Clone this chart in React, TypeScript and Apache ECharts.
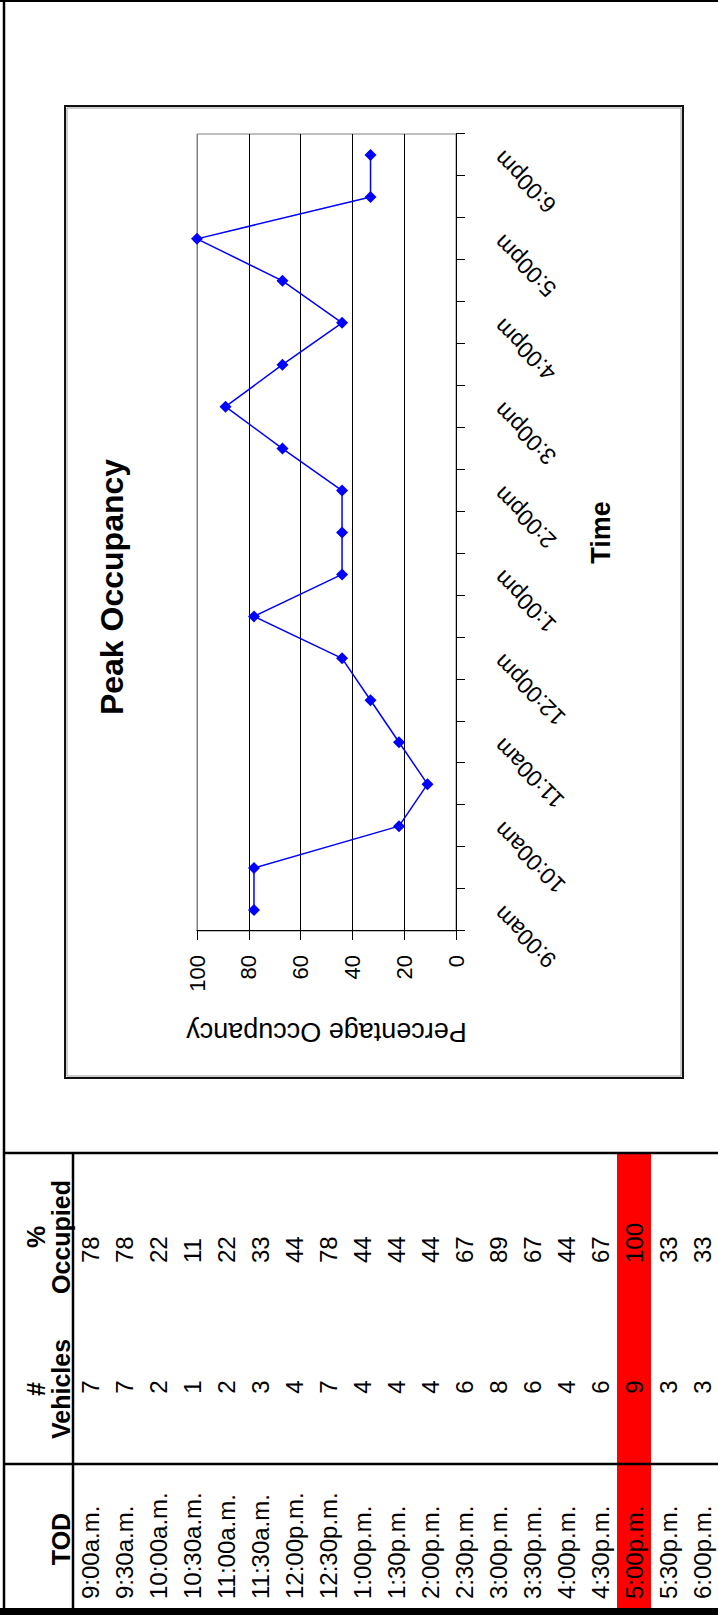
import React, { useEffect, useRef } from "react";
import * as echarts from "echarts";

// Half-hour survey periods shown on the chart's category axis
const TIMES = [
  "9:00am", "9:30am", "10:00am", "10:30am", "11:00am", "11:30am", "12:00pm",
  "12:30pm", "1:00pm", "1:30pm", "2:00pm", "2:30pm", "3:00pm", "3:30pm",
  "4:00pm", "4:30pm", "5:00pm", "5:30pm", "6:00pm",
];
// Same periods as written in the table
const TOD = [
  "9:00a.m.", "9:30a.m.", "10:00a.m.", "10:30a.m.", "11:00a.m.", "11:30a.m.",
  "12:00p.m.", "12:30p.m.", "1:00p.m.", "1:30p.m.", "2:00p.m.", "2:30p.m.",
  "3:00p.m.", "3:30p.m.", "4:00p.m.", "4:30p.m.", "5:00p.m.", "5:30p.m.",
  "6:00p.m.",
];
const VEHICLES = [7, 7, 2, 1, 2, 3, 4, 7, 4, 4, 4, 6, 8, 6, 4, 6, 9, 3, 3];
const OCCUPIED = [78, 78, 22, 11, 22, 33, 44, 78, 44, 44, 44, 67, 89, 67, 44, 67, 100, 33, 33];

const FONT = '"Liberation Sans", Arial, Helvetica, sans-serif';

// Page is laid out landscape, then turned a quarter turn counter-clockwise.
const PAGE_W = 1615;
const PAGE_H = 718;

// Table geometry (landscape page coordinates)
const ROW_TOP = 73;
const ROW_H = 34;
const TABLE_RIGHT = 462;
const TOD_SPLIT = 151;

function buildGraphics() {
  const els: any[] = [];
  const peak = OCCUPIED.indexOf(Math.max(...OCCUPIED));

  // highlighted peak row
  els.push({
    type: "rect",
    shape: { x: 7, y: ROW_TOP + peak * ROW_H, width: TABLE_RIGHT - 7, height: ROW_H },
    style: { fill: "#ff0000" },
  });

  const txt = (text: string, x: number, y: number, size: number, align: string, bold = false) => ({
    type: "text",
    x,
    y,
    style: {
      text,
      fill: "#000",
      fontSize: size,
      fontFamily: FONT,
      fontWeight: bold ? "bold" : "normal",
      textAlign: align,
      verticalAlign: "middle",
    },
  });

  // headers
  els.push(txt("TOD", 76, 61, 25, "center", true));
  els.push(txt("#", 226, 36, 25, "center", true));
  els.push(txt("Vehicles", 226, 61, 25, "center", true));
  els.push(txt("%", 378, 36, 25, "center", true));
  els.push(txt("Occupied", 378, 61, 25, "center", true));

  // rows
  TOD.forEach((t, i) => {
    const cy = ROW_TOP + ROW_H * i + ROW_H / 2;
    els.push(txt(t, 16, cy, 24, "left"));
    els.push(txt(String(VEHICLES[i]), 228, cy, 24, "center"));
    els.push(txt(String(OCCUPIED[i]), 352, cy, 24, "left"));
  });

  const line = (x1: number, y1: number, x2: number, y2: number, w: number) => ({
    type: "line",
    shape: { x1, y1, x2, y2 },
    style: { stroke: "#000", lineWidth: w },
  });

  // page rules and table grid
  els.push(line(0, 4, PAGE_W, 4, 2.5));
  els.push(line(PAGE_W - 1, 0, PAGE_W - 1, PAGE_H, 2));
  els.push({ type: "rect", shape: { x: 0, y: 0, width: 7, height: PAGE_H }, style: { fill: "#000" } });
  els.push(line(TABLE_RIGHT, 4, TABLE_RIGHT, PAGE_H, 2.5));
  els.push(line(TOD_SPLIT, 4, TOD_SPLIT, PAGE_H, 2.5));
  els.push(line(7, ROW_TOP, TABLE_RIGHT, ROW_TOP, 2.5));

  // chart frame
  els.push({
    type: "rect",
    shape: { x: 537, y: 65, width: 972, height: 618 },
    style: { fill: "none", stroke: "#111", lineWidth: 2 },
  });
  els.push({
    type: "rect",
    shape: { x: 539, y: 67, width: 968, height: 614 },
    style: { fill: "none", stroke: "#9a9a9a", lineWidth: 1 },
  });

  return els;
}

export default function App() {
  const ref = useRef<HTMLDivElement>(null);

  useEffect(() => {
    if (!ref.current) return;
    const chart = echarts.init(ref.current, undefined, { renderer: "svg" });
    chart.setOption({
      animation: false,
      backgroundColor: "#fff",
      title: {
        text: "Peak Occupancy",
        left: 1023,
        top: 91,
        textAlign: "center",
        textStyle: { fontFamily: FONT, fontSize: 32, fontWeight: "bold", color: "#000" },
      },
      grid: {
        left: 684,
        top: 197,
        width: 797,
        height: 259,
        show: true,
        borderColor: "#808080",
        borderWidth: 1,
        backgroundColor: "#fff",
      },
      xAxis: {
        type: "category",
        data: TIMES,
        boundaryGap: true,
        name: "Time",
        nameLocation: "middle",
        nameGap: 131,
        nameTextStyle: { fontFamily: FONT, fontSize: 27, fontWeight: "bold", color: "#000" },
        axisLine: { lineStyle: { color: "#000", width: 1 } },
        axisTick: { show: true, interval: 0, length: 9, lineStyle: { color: "#000" } },
        axisLabel: {
          interval: 1,
          rotate: 45,
          margin: 42,
          fontFamily: FONT,
          fontSize: 23,
          color: "#000",
        },
        splitLine: { show: false },
      },
      yAxis: {
        type: "value",
        min: 0,
        max: 100,
        interval: 20,
        name: "Percentage Occupancy",
        nameLocation: "middle",
        nameRotate: 90,
        nameGap: 87,
        nameTextStyle: { fontFamily: FONT, fontSize: 27, color: "#000" },
        axisLine: { show: true, lineStyle: { color: "#000", width: 1 } },
        axisTick: { show: true, length: 9, lineStyle: { color: "#000" } },
        axisLabel: { margin: 24, fontFamily: FONT, fontSize: 22, color: "#000" },
        splitLine: {
          show: true,
          lineStyle: { color: ["#000", "#000", "#000", "#000", "#000", "#808080"], width: 1 },
        },
      },
      series: [
        {
          type: "line",
          data: OCCUPIED,
          symbol: "diamond",
          symbolSize: 12,
          lineStyle: { color: "#0000ff", width: 1.5 },
          itemStyle: { color: "#0000ff" },
        },
      ],
      graphic: { elements: buildGraphics() },
    });
    return () => chart.dispose();
  }, []);

  return (
    <div
      style={{
        position: "absolute",
        left: 0,
        top: 0,
        width: PAGE_H,
        height: PAGE_W,
        overflow: "hidden",
        background: "#fff",
      }}
    >
      <div
        ref={ref}
        style={{
          position: "absolute",
          left: 0,
          top: 0,
          width: PAGE_W,
          height: PAGE_H,
          transformOrigin: "0 0",
          transform: `translateY(${PAGE_W}px) rotate(-90deg)`,
        }}
      />
    </div>
  );
}
